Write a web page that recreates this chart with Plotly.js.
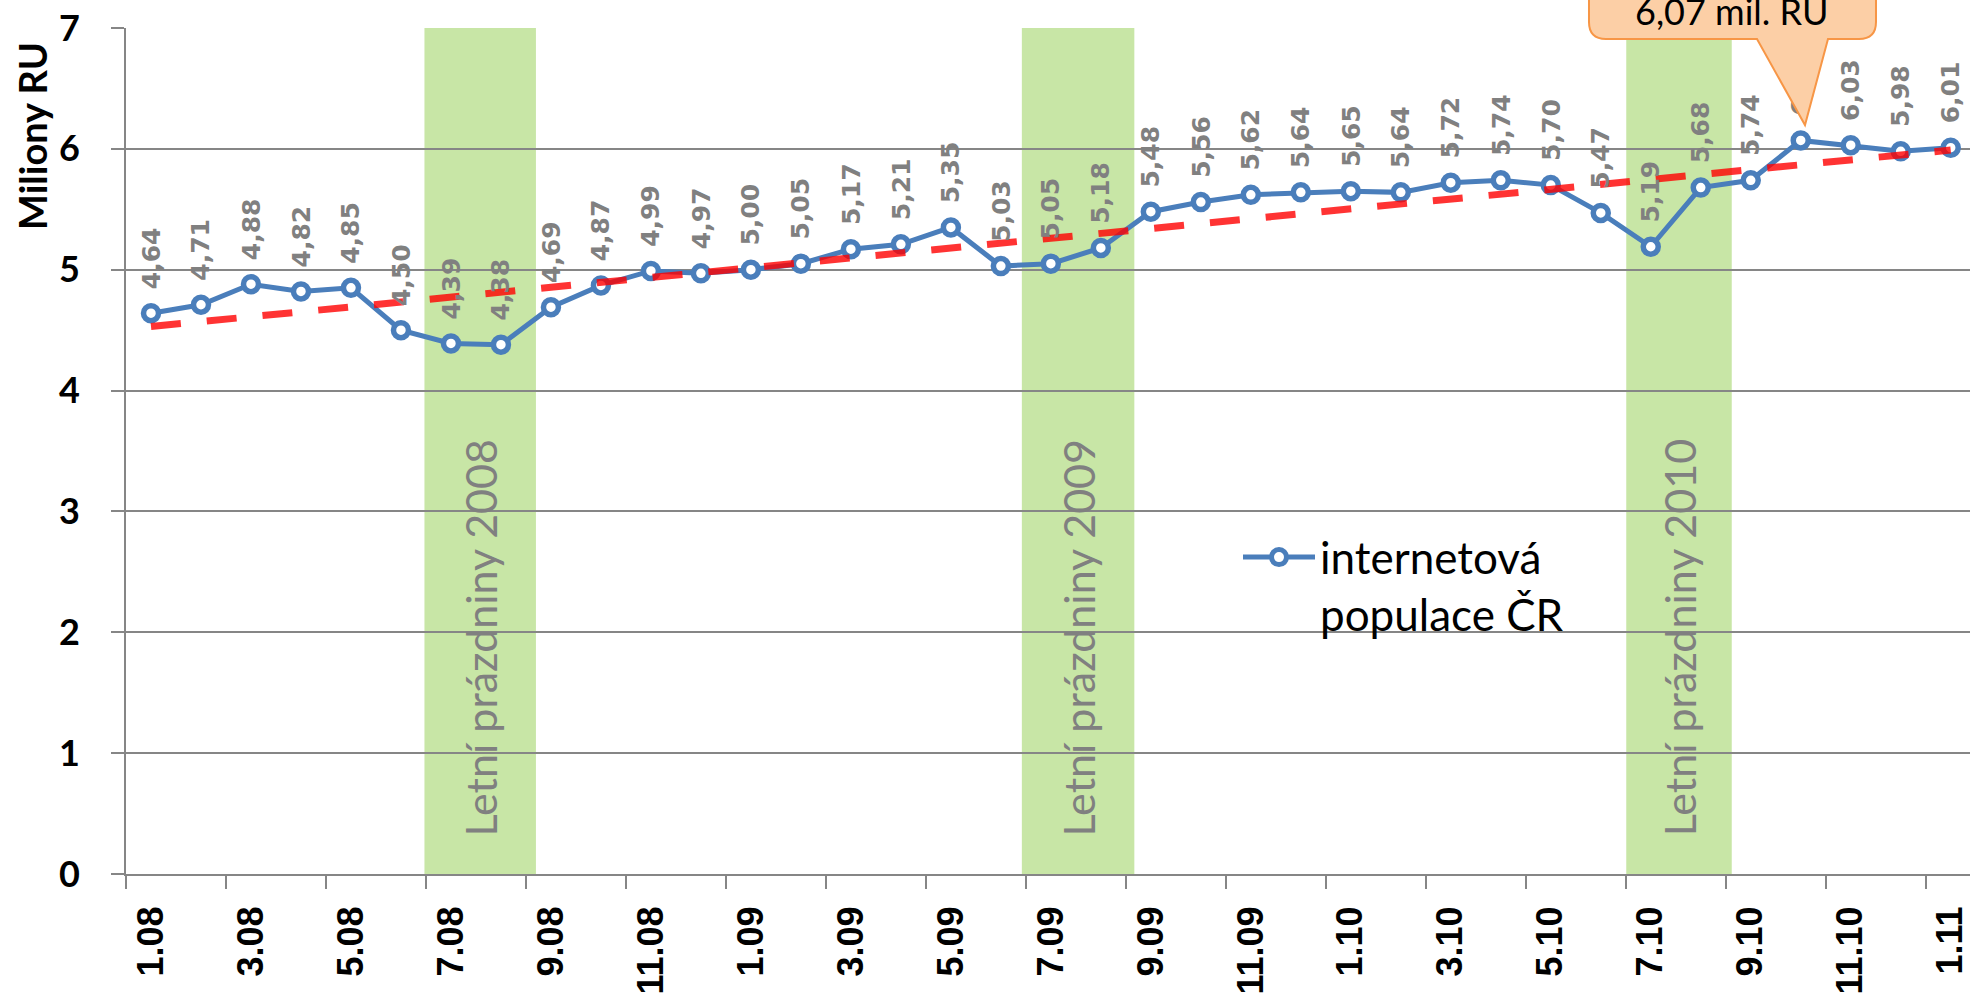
<!DOCTYPE html>
<html>
<head>
<meta charset="utf-8">
<script src="https://cdn.plot.ly/plotly-3.0.1.min.js"></script>
<style>html,body{margin:0;padding:0;background:#fff;overflow:hidden}</style>
</head>
<body>
<div id="chart" style="width:1970px;height:998px"></div>
<script>
// ---- data ----
const months = ["1.08","2.08","3.08","4.08","5.08","6.08","7.08","8.08","9.08","10.08","11.08","12.08",
                "1.09","2.09","3.09","4.09","5.09","6.09","7.09","8.09","9.09","10.09","11.09","12.09",
                "1.10","2.10","3.10","4.10","5.10","6.10","7.10","8.10","9.10","10.10","11.10","12.10",
                "1.11"];
const internetPopulation = [4.64,4.71,4.88,4.82,4.85,4.50,4.39,4.38,4.69,4.87,4.99,4.97,
                            5.00,5.05,5.17,5.21,5.35,5.03,5.05,5.18,5.48,5.56,5.62,5.64,
                            5.65,5.64,5.72,5.74,5.70,5.47,5.19,5.68,5.74,6.07,6.03,5.98,
                            6.01];
const trendMonths = ["1.08","1.11"];
const trendValues = [4.53, 5.99];
const summerLabels = ["Letní prázdniny 2008","Letní prázdniny 2009","Letní prázdniny 2010"];
const summerStart = [5.47, 17.42, 29.51];
const summerEnd = [7.70, 19.67, 31.62];
const seriesName = "internetová<br>populace ČR";
const calloutText = "6,07 mil. RU";
const yTitle = "Miliony RU";

// ---- geometry ----
const W = 1970, H = 998, ML = 126, MR = 0, MT = 28, MB = 124;
const PW = W - ML - MR, PH = H - MT - MB;
const px = v => (v - ML) / PW;
const py = v => (H - MB - v) / PH;
const yMax = 7;
const labelOffset = 22 / (PH / yMax);

const grey = "#868686";
const labelFont = {family: "DejaVu Sans", size: 25, color: "#808080", weight: "bold"};
const labelText = internetPopulation.map(v => v.toFixed(2).replace(".", ","));
const peak = internetPopulation.indexOf(Math.max(...internetPopulation));

const traces = [
  {
    type: "scatter", mode: "lines+markers", x: months, y: internetPopulation,
    name: seriesName,
    line: {color: "#4A7EBB", width: 5},
    marker: {symbol: "circle", size: 15, color: "#ffffff", line: {color: "#4A7EBB", width: 5.5}},
    showlegend: true
  },
  {
    // label of the peak point, drawn under the callout
    type: "bar", x: [months[peak]], base: [internetPopulation[peak]], y: [labelOffset],
    text: [labelText[peak]], textposition: "outside", textangle: -90,
    constraintext: "none", cliponaxis: false, textfont: labelFont,
    marker: {color: "rgba(0,0,0,0)", line: {width: 0}},
    width: 0.6, showlegend: false, hoverinfo: "skip"
  },
  {
    type: "scatter", mode: "lines", x: trendMonths, y: trendValues,
    line: {color: "rgba(255,0,0,0.8)", width: 7, dash: "30px,26px"},
    showlegend: false, hoverinfo: "skip"
  }
];

const shapes = summerStart.map((s, i) => ({
  type: "rect", xref: "x", yref: "y", x0: s, x1: summerEnd[i], y0: 0, y1: 7.02,
  fillcolor: "#C8E6A6", line: {width: 0}, layer: "below"
}));

// callout (pixel outline converted to paper coords)
const bl = 1589, br = 1876, bt = -40, bb = 39, r = 17;
const pts = (x, y) => px(x).toFixed(5) + "," + py(y).toFixed(5);
const calloutPath =
  "M" + pts(bl + r, bt) + " L" + pts(br - r, bt) + " Q" + pts(br, bt) + " " + pts(br, bt + r) +
  " L" + pts(br, bb - r) + " Q" + pts(br, bb) + " " + pts(br - r, bb) +
  " L" + pts(1828, bb) + " L" + pts(1805, 125) + " L" + pts(1757, bb) +
  " L" + pts(bl + r, bb) + " Q" + pts(bl, bb) + " " + pts(bl, bb - r) +
  " L" + pts(bl, bt + r) + " Q" + pts(bl, bt) + " " + pts(bl + r, bt) + " Z";
shapes.push({
  type: "path", xref: "paper", yref: "paper", path: calloutPath,
  fillcolor: "#FCCFA6", line: {color: "#F79646", width: 2}, layer: "above"
});

const annotations = [];
internetPopulation.forEach((v, i) => {
  if (i === peak) return;
  annotations.push({
    xref: "x", yref: "y", x: i, y: v, text: labelText[i],
    textangle: -90, xanchor: "center", yanchor: "bottom", yshift: 24,
    showarrow: false, borderpad: 0, borderwidth: 0, font: labelFont
  });
});
summerLabels.forEach((t, i) => annotations.push({
  xref: "x", yref: "y", x: (summerStart[i] + summerEnd[i]) / 2, y: 1.95,
  xanchor: "center", yanchor: "middle",
  text: t, textangle: -90, showarrow: false,
  font: {family: "Lato", size: 43, color: "#808080"}
}));
annotations.push({
  xref: "paper", yref: "paper", x: px(1731), y: py(11), xanchor: "center", yanchor: "middle",
  text: calloutText, showarrow: false,
  font: {family: "Lato", size: 36, color: "#000000"}
});
annotations.push({
  xref: "paper", yref: "paper", x: px(32), y: py(136), xanchor: "center", yanchor: "middle",
  text: yTitle, textangle: -90, showarrow: false,
  font: {family: "Lato", size: 38, color: "#000000", weight: "bold"}
});

const layout = {
  width: W, height: H,
  margin: {l: ML, r: MR, t: MT, b: MB, pad: 0},
  paper_bgcolor: "#ffffff", plot_bgcolor: "#ffffff",
  showlegend: true,
  legend: {
    x: px(1238), y: py(522), xanchor: "left", yanchor: "top", valign: "top",
    bgcolor: "rgba(0,0,0,0)", borderwidth: 0, itemwidth: 72,
    font: {family: "Lato", size: 44, color: "#000000"}
  },
  xaxis: {
    type: "category", categoryorder: "array", categoryarray: months,
    range: [-0.5, 36.386], tickmode: "linear", tick0: 0, dtick: 2,
    tickson: "boundaries", ticks: "outside", ticklen: 13, tickwidth: 2, tickcolor: grey,
    showline: true, linecolor: grey, linewidth: 2, showgrid: false, zeroline: false,
    tickangle: -90, ticklabelstandoff: 16,
    tickfont: {family: "Liberation Sans", size: 36, color: "#000000", weight: "bold"}
  },
  yaxis: {
    range: [0, yMax], tickmode: "linear", tick0: 0, dtick: 1,
    ticks: "outside", ticklen: 13, tickwidth: 2, tickcolor: grey,
    showline: true, linecolor: grey, linewidth: 2,
    showgrid: true, gridcolor: grey, gridwidth: 2, zeroline: false,
    ticklabelstandoff: 24,
    tickfont: {family: "Lato", size: 36, color: "#000000", weight: "bold"}
  },
  shapes: shapes,
  annotations: annotations,
  bargap: 0.4
};

Plotly.newPlot("chart", traces, layout, {displayModeBar: false, staticPlot: true});
</script>
</body>
</html>
